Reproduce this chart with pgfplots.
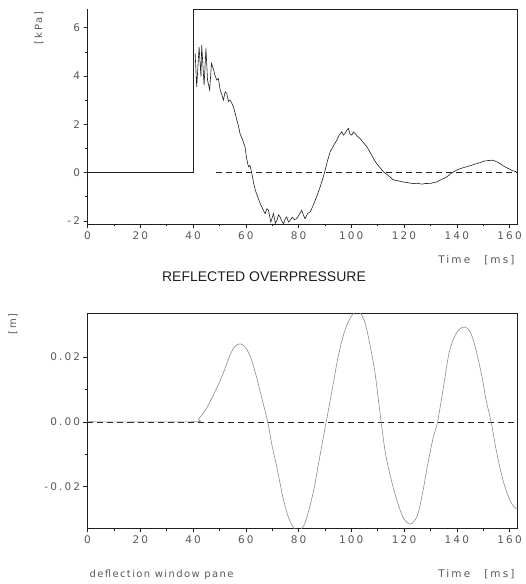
\documentclass[border=0pt]{standalone}
\usepackage{fontspec}
\setmainfont{Liberation Sans}
\newfontfamily\tickfont[LetterSpace=20]{DejaVu Sans}
\newfontfamily\smallfont[LetterSpace=14]{DejaVu Sans}
\usepackage{pgfplots}
\pgfplotsset{compat=1.18}
\definecolor{ink}{gray}{0.12}
\definecolor{lbl}{gray}{0.35}
\pgfplotsset{
  base/.style={
    scale only axis, width=430pt, xmin=0, xmax=163,
    /pgf/number format/assume math mode=true,
    ticklabel style={font=\tickfont\fontsize{10.5}{11}\selectfont, text=lbl},
    xtick={0,20,...,160}, minor x tick num=1,
    tick align=outside, major tick length=4pt, minor tick length=2.5pt,
    tick style={ink, line width=0.5pt},
    axis line style={ink, line width=0.6pt},
    xtick pos=bottom, ytick pos=left,
    clip=true,
  }
}
\begin{document}
\begin{tikzpicture}
\useasboundingbox (0,0) rectangle (526pt,584pt);
% ---------- top: reflected overpressure ----------
\begin{axis}[base, at={(87.5pt,360pt)}, anchor=south west, height=214.7pt,
  ymin=-2.13, ymax=6.76, ytick={-2,0,2,4,6}, minor y tick num=1,
  axis x line*=bottom, axis y line*=left, axis line style={-},
  clip=false]
\addplot[ink, line width=0.6pt] coordinates {(0,0)(40,0)(40,6.76)(163,6.76)(163,-2.13)};
\addplot[ink, dashed, dash pattern=on 6pt off 4pt, line width=0.5pt] coordinates {(48.8,0)(163,0)};
\addplot[ink, line width=0.6pt] coordinates {
(40.8,4.94)(41.4,3.55)(42.3,5.2)(43,3.97)(43.3,5.28)(44.2,3.62)(44.9,5.14)(45.5,3.83)
(46.3,3.42)(47,4.52)(47.8,4.25)(48.4,4.0)(49,3.83)(49.6,3.9)(50.3,3.42)(51,3.2)(51.5,3.0)
(52.2,3.35)(52.8,3.28)(53.4,2.95)(54,3.0)(54.6,2.9)(55.3,2.72)(56,2.45)(56.6,2.17)(57.2,1.95)
(57.8,1.62)(58.8,1.35)(59.7,1.07)(60.3,0.6)(61,0.24)(61.6,0.3)(62.3,-0.04)(63,-0.45)(63.6,-0.73)
(64.5,-1.0)(65.5,-1.29)(66.4,-1.5)(67.3,-1.70)(68,-1.5)(68.6,-1.56)(69.5,-2.05)(70.5,-1.70)
(71.2,-2.1)(71.8,-1.98)(72.4,-1.75)(73,-1.84)(73.6,-2.0)(74.3,-2.12)(75,-1.9)(75.5,-1.84)
(76.2,-2.05)(76.8,-1.98)(77.6,-1.85)(78.4,-1.95)(79.3,-1.91)(80.2,-1.75)(81.2,-1.56)(82,-1.8)
(82.5,-1.91)(83.4,-1.7)(84.4,-1.63)(85.4,-1.4)(86.3,-1.15)(87.2,-0.9)(88.2,-0.59)(89.2,-0.25)
(90.1,0.10)(91,0.5)(92,0.86)(93.2,1.1)(94.5,1.34)(95.4,1.55)(96.4,1.69)(97,1.55)(97.6,1.62)
(98.3,1.75)(98.9,1.83)(99.5,1.6)(100.2,1.55)(100.8,1.68)(101.4,1.62)(102.3,1.5)(103.3,1.41)
(104.5,1.25)(105.9,1.07)(106.8,0.9)(107.7,0.72)(108.6,0.55)(109.6,0.37)(110.9,0.2)(112.2,0.03)
(113.5,-0.08)(114.7,-0.18)(115.6,-0.28)(116.6,-0.32)(118,-0.35)(119.7,-0.39)(121.5,-0.42)
(123.5,-0.46)(125,-0.44)(126.7,-0.48)(128.2,-0.45)(129.8,-0.46)(131,-0.42)(132.4,-0.39)
(134.3,-0.28)(136.2,-0.18)(138,-0.02)(139.9,0.10)(141.8,0.18)(143.7,0.24)(145.6,0.3)
(147.5,0.37)(149,0.42)(150.7,0.48)(152.2,0.5)(153.8,0.51)(155,0.45)(156.4,0.37)(158,0.25)
(159.5,0.17)(161,0.08)(162.6,0.03)};
\end{axis}
% ---------- bottom: deflection ----------
\begin{axis}[base, at={(87.5pt,55.7pt)}, anchor=south west, height=215pt,
  ymin=-0.0328, ymax=0.0334, ytick={-0.02,0,0.02}, minor y tick num=1,
  yticklabel style={/pgf/number format/.cd, fixed, fixed zerofill, precision=2},
  scaled y ticks=false]
\addplot[ink, dashed, dash pattern=on 6pt off 4pt, line width=0.5pt] coordinates {(0,0)(163,0)};
\addplot[black!45, line width=0.6pt, smooth] coordinates {
(0,0)(40,0)(42,0.0008)(45,0.004)(48,0.0087)(51,0.014)(54,0.0205)(56,0.0233)(58,0.024)
(60,0.0228)(62,0.0195)(64,0.014)(66,0.0075)(68.3,0)(70,-0.0075)(72,-0.0148)(74,-0.023)
(76,-0.029)(78,-0.0325)(80,-0.0335)(82,-0.032)(84,-0.027)(86,-0.02)(88,-0.011)(90.5,0)
(93,0.011)(95,0.02)(97.5,0.028)(100,0.0325)(102.5,0.0342)(105,0.031)(107,0.024)(109,0.015)
(111,0.002)(113,-0.01)(115.5,-0.019)(118,-0.026)(120,-0.03)(122.5,-0.0315)(125,-0.029)
(127,-0.022)(129,-0.013)(131,-0.005)(132.7,0)(135,0.011)(137,0.021)(139,0.026)(141,0.0285)
(143,0.0292)(145,0.0278)(147,0.023)(149.5,0.014)(151,0.007)(153,0)(155,-0.009)(157.5,-0.018)
(160,-0.024)(162,-0.0265)(163,-0.0268)};
\end{axis}
% ---------- texts ----------
\node[rotate=90, text=lbl, font=\tickfont\fontsize{10}{11}\selectfont] at (39pt,556pt) {[kPa]};
\node[rotate=90, text=lbl, font=\tickfont\fontsize{10}{11}\selectfont] at (13pt,260pt) {[m]};
\node[anchor=east, text=lbl, font=\tickfont\fontsize{10.5}{11}\selectfont] at (518pt,324pt) {Time\hspace{14pt}[ms]};
\node[anchor=east, text=lbl, font=\tickfont\fontsize{10.5}{11}\selectfont] at (518pt,10pt) {Time\hspace{14pt}[ms]};
\node[text=ink, font=\fontsize{14}{15}\selectfont] at (264pt,307pt) {REFLECTED OVERPRESSURE};
\node[anchor=west, text=lbl, font=\smallfont\fontsize{10}{11}\selectfont] at (86pt,9pt) {deflection window pane};
\end{tikzpicture}
\end{document}
